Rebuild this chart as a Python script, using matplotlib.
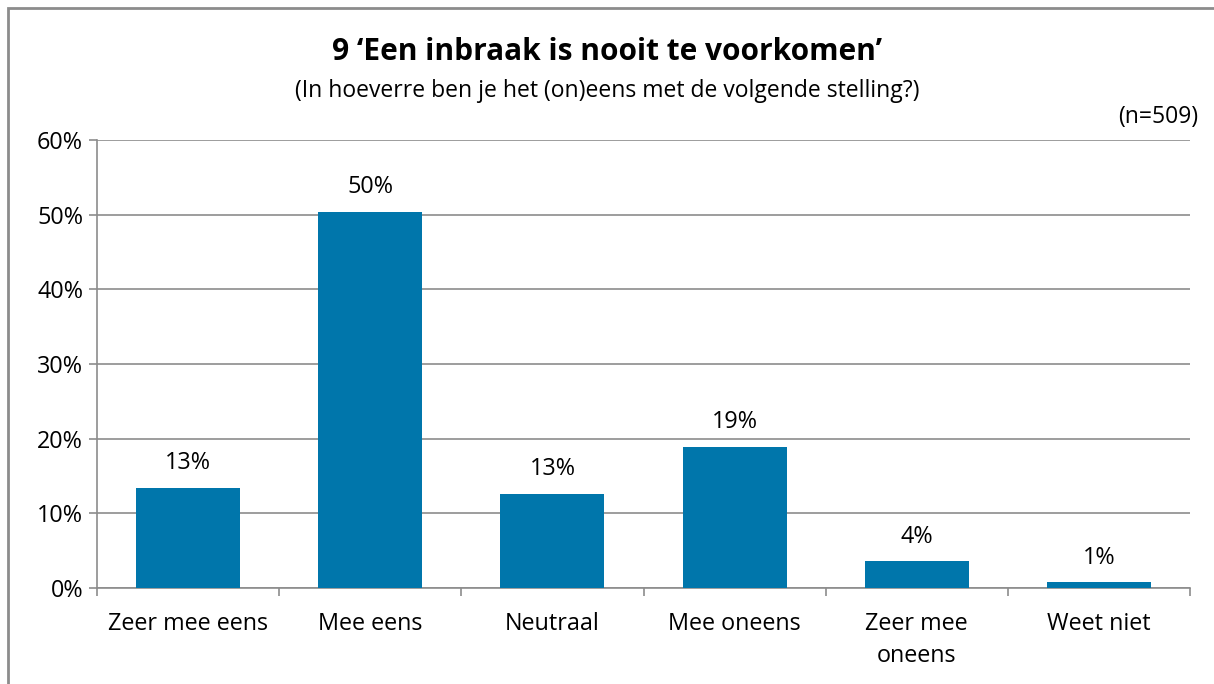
import numpy as np
import matplotlib.pyplot as plt
from matplotlib.patches import Rectangle

categories = ['Zeer mee eens', 'Mee eens', 'Neutraal', 'Mee oneens', 'Zeer mee\noneens', 'Weet niet']
values = [13.4, 50.4, 12.6, 18.9, 3.6, 0.8]
labels = ['13%', '50%', '13%', '19%', '4%', '1%']
yticks = [0, 10, 20, 30, 40, 50, 60]

plt.rcParams['font.family'] = ['Open Sans', 'DejaVu Sans']
W, H = 1214, 684
fig = plt.figure(figsize=(W / 100, H / 100), dpi=100)
fig.patch.set_facecolor('white')

# axes in pixel coords: x 97..1190, y 140..588
ax = fig.add_axes([97 / W, 1 - 588 / H, (1190 - 97) / W, (588 - 140) / H])
grey = '#8c8c8c'
fs = 16.8
x = np.arange(len(categories))
ax.bar(x, values, width=0.57, color='#0076ab', zorder=3)
ax.set_xlim(-0.5, len(categories) - 0.5)
ax.set_ylim(0, 60)
ax.set_yticks(yticks)
ax.set_yticklabels([f'{t}%' for t in yticks], fontsize=fs)
ax.yaxis.grid(True, color=grey, linewidth=1.2, zorder=0)
ax.set_xticks(np.arange(len(categories) + 1) - 0.5)
ax.set_xticklabels([])
ax.set_xticks(x, minor=True)
ax.set_xticklabels(categories, minor=True, fontsize=fs, linespacing=1.45)
ax.tick_params(axis='x', which='minor', length=0, pad=17)
ax.tick_params(axis='x', which='major', length=6, width=1.2, color=grey)
ax.tick_params(axis='y', length=6, width=1.2, color=grey, pad=4)
for s in ['top', 'right']:
    ax.spines[s].set_visible(False)
for s in ['left', 'bottom']:
    ax.spines[s].set_color(grey)
    ax.spines[s].set_linewidth(1.2)

for xi, v, lab in zip(x, values, labels):
    ax.annotate(lab, (xi, v), xytext=(0, 9), textcoords='offset points',
                ha='center', va='bottom', fontsize=fs)

fig.text(0.5, 1 - 52 / H, '9 \u2018Een inbraak is nooit te voorkomen\u2019',
         ha='center', va='center', fontsize=21.5, fontweight='bold')
fig.text(0.5, 1 - 91 / H, '(In hoeverre ben je het (on)eens met de volgende stelling?)',
         ha='center', va='center', fontsize=16.5)
fig.text(1198 / W, 1 - 117 / H, '(n=509)', ha='right', va='center', fontsize=16.5)

# outer chart border
fig.patches.append(Rectangle((8 / W, -0.05), 1.1, 1 - 8 / H + 0.05, transform=fig.transFigure,
                             fill=False, edgecolor=grey, linewidth=2))

fig.savefig('out.png', dpi=100)
